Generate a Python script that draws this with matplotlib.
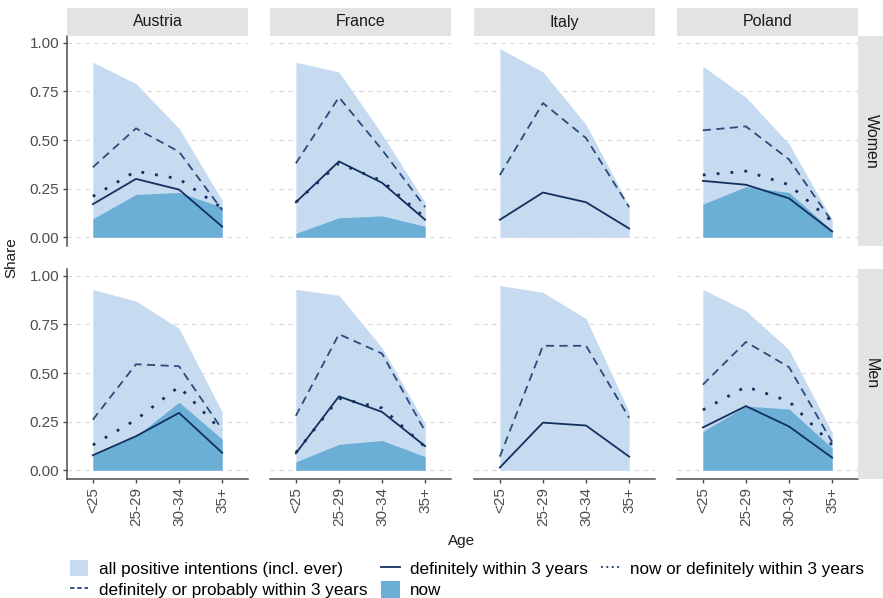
import numpy as np
import matplotlib.pyplot as plt
from matplotlib.patches import Patch
from matplotlib.lines import Line2D

plt.rcParams['font.family'] = ['Liberation Sans', 'DejaVu Sans']

ages = ['<25', '25-29', '30-34', '35+']
countries = ['Austria', 'France', 'Italy', 'Poland']
sexes = ['Women', 'Men']

# one list per country: Austria, France, Italy, Poland
all_pos_women = [[0.90, 0.79, 0.56, 0.19], [0.90, 0.85, 0.53, 0.18],
                 [0.97, 0.85, 0.58, 0.16], [0.88, 0.72, 0.48, 0.09]]
def_prob_women = [[0.36, 0.56, 0.44, 0.14], [0.38, 0.72, 0.45, 0.155],
                  [0.32, 0.69, 0.51, 0.155], [0.55, 0.57, 0.40, 0.08]]
def_women = [[0.17, 0.30, 0.245, 0.055], [0.18, 0.39, 0.28, 0.09],
             [0.09, 0.23, 0.18, 0.045], [0.29, 0.27, 0.20, 0.03]]
now_def_women = [[0.21, 0.34, 0.30, 0.15], [0.18, 0.38, 0.29, 0.10],
                 None, [0.32, 0.34, 0.27, 0.08]]
now_women = [[0.095, 0.22, 0.23, 0.155], [0.02, 0.10, 0.11, 0.056],
             None, [0.17, 0.26, 0.23, 0.035]]

all_pos_men = [[0.93, 0.87, 0.73, 0.30], [0.93, 0.90, 0.63, 0.24],
               [0.95, 0.915, 0.78, 0.30], [0.93, 0.82, 0.62, 0.195]]
def_prob_men = [[0.26, 0.545, 0.535, 0.21], [0.28, 0.70, 0.60, 0.20],
                [0.07, 0.64, 0.64, 0.27], [0.44, 0.66, 0.53, 0.145]]
def_men = [[0.077, 0.175, 0.295, 0.09], [0.087, 0.38, 0.30, 0.124],
           [0.014, 0.245, 0.23, 0.07], [0.22, 0.33, 0.225, 0.065]]
now_def_men = [[0.13, 0.26, 0.43, 0.20], [0.09, 0.37, 0.32, 0.12],
               None, [0.31, 0.43, 0.355, 0.13]]
now_men = [[0.075, 0.175, 0.35, 0.16], [0.043, 0.133, 0.153, 0.07],
           None, [0.20, 0.33, 0.315, 0.115]]

data = {
    'Women': (all_pos_women, def_prob_women, def_women, now_def_women, now_women),
    'Men': (all_pos_men, def_prob_men, def_men, now_def_men, now_men),
}

light = '#c6dbef'
dark = '#6baed6'
navy = '#12305f'
navy_dash = '#2c4a7c'

W, H = 883, 598
fig = plt.figure(figsize=(W / 100, H / 100), dpi=100)

lefts = [67, 270, 474, 677]
pw = 181
tops = [36, 269]
ph = 210

x = np.arange(len(ages))
for r, sex in enumerate(sexes):
    all_pos, def_prob, defin, now_def, now = data[sex]
    for c, country in enumerate(countries):
        ax = fig.add_axes([lefts[c] / W, 1 - (tops[r] + ph) / H, pw / W, ph / H])
        ax.fill_between(x, 0, all_pos[c], color=light, lw=0)
        if now[c] is not None:
            ax.fill_between(x, 0, now[c], color=dark, lw=0)
        ax.plot(x, def_prob[c], color=navy_dash, lw=1.3, dashes=(4.5, 3))
        if now_def[c] is not None:
            ax.plot(x, now_def[c], color=navy, lw=2.0, dashes=(1, 4))
        ax.plot(x, defin[c], color=navy, lw=1.3)

        ax.set_xlim(-0.6, 3.6)
        ax.set_ylim(-0.045, 1.035)
        ax.set_yticks([0, 0.25, 0.5, 0.75, 1.0])
        ax.yaxis.grid(True, color='#d9d9d9', ls=(0, (4, 4)), lw=0.8)
        ax.set_axisbelow(True)
        for s in ['top', 'right']:
            ax.spines[s].set_visible(False)
        ax.spines['left'].set_color('#4d4d4d')
        ax.spines['bottom'].set_color('#4d4d4d')
        ax.spines['left'].set_linewidth(1.1)
        ax.spines['bottom'].set_linewidth(1.1)
        ax.tick_params(colors='#4d4d4d', labelcolor='#4d4d4d', labelsize=11,
                       length=3, width=1, pad=2.5)

        if c == 0:
            ax.set_yticklabels(['0.00', '0.25', '0.50', '0.75', '1.00'])
        else:
            ax.spines['left'].set_visible(False)
            ax.tick_params(axis='y', left=False, labelleft=False)

        ax.set_xticks(x)
        if r == 1:
            ax.set_xticklabels(ages, rotation=90)
        else:
            ax.spines['bottom'].set_visible(False)
            ax.tick_params(axis='x', bottom=False, labelbottom=False)

        # column strips
        if r == 0:
            sax = fig.add_axes([lefts[c] / W, 1 - 36 / H, pw / W, 28 / H])
            sax.set_facecolor('#e3e3e3')
            sax.set_xticks([])
            sax.set_yticks([])
            for s in sax.spines.values():
                s.set_visible(False)
            sax.text(0.5, 0.5, country, ha='center', va='center', fontsize=11.5,
                     color='#1a1a1a', transform=sax.transAxes)

    # row strips
    rax = fig.add_axes([858 / W, 1 - (tops[r] + ph) / H, 27 / W, ph / H])
    rax.set_facecolor('#e3e3e3')
    rax.set_xticks([])
    rax.set_yticks([])
    for s in rax.spines.values():
        s.set_visible(False)
    rax.text(0.5, 0.5, sex, ha='center', va='center', rotation=-90, fontsize=11.5,
             color='#1a1a1a', transform=rax.transAxes)

fig.text(11 / W, 1 - 258 / H, 'Share', rotation=90, ha='center', va='center',
         fontsize=11, color='#1a1a1a')
fig.text(462 / W, 1 - 541 / H, 'Age', ha='center', va='center', fontsize=11,
         color='#1a1a1a')

handles = [
    Patch(facecolor=light, edgecolor='none'),
    Line2D([], [], color=navy_dash, lw=1.3, dashes=(2.5, 1.5)),
    Line2D([], [], color=navy, lw=1.3),
    Patch(facecolor=dark, edgecolor='none'),
    Line2D([], [], color=navy, lw=1.3, dashes=(1, 2)),
]
labels = ['all positive intentions (incl. ever)',
          'definitely or probably within 3 years',
          'definitely within 3 years',
          'now',
          'now or definitely within 3 years']
fig.legend(handles, labels, ncol=3, loc='center', bbox_to_anchor=(467 / W, 1 - 579 / H),
           frameon=False, fontsize=12.3, handlelength=1.1, handleheight=1.1,
           handletextpad=0.6, columnspacing=0.8, labelspacing=0.25,
           borderaxespad=0, borderpad=0)

fig.savefig('out.png', dpi=100)
